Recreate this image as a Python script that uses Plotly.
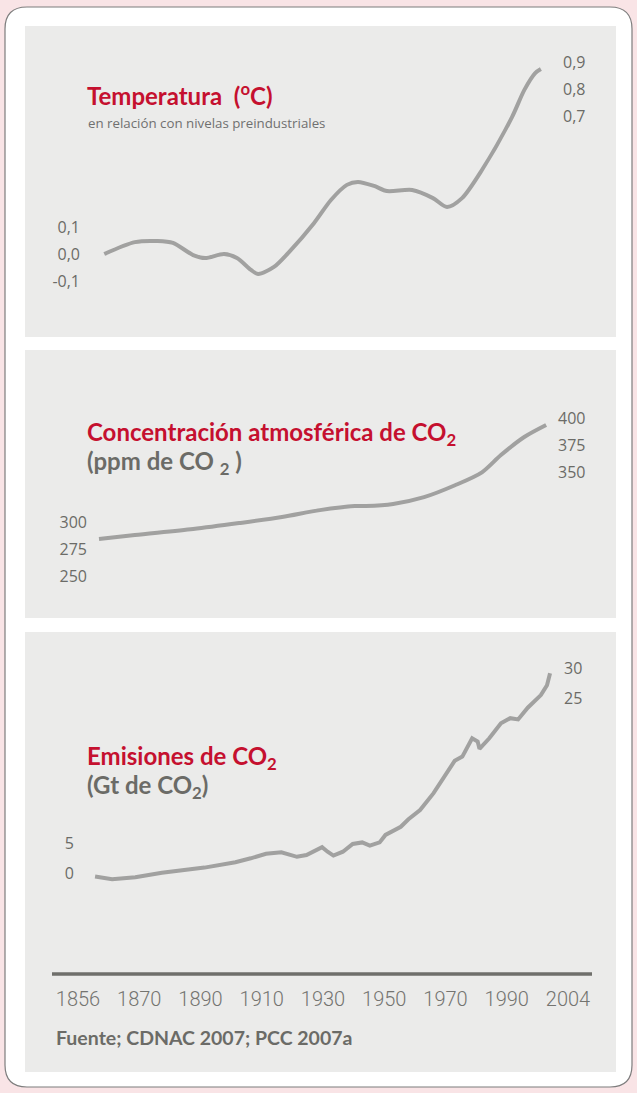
import numpy as np
import plotly.graph_objects as go

W, H = 637, 1093

# ---------------- data ----------------
LABEL_YEARS = [1856, 1870, 1890, 1910, 1930, 1950, 1970, 1990, 2004]

temp_years = [1862, 1869, 1876, 1881, 1887.6, 1891.5, 1897.7, 1901.9, 1906.5, 1908.8,
              1914, 1918.9, 1927.1, 1932.6, 1937.8, 1941.4, 1946.7, 1950.9, 1959.1,
              1965.9, 1970.5, 1975.4, 1981.9, 1991.2, 1994, 1996.5, 1997.8]
temp_values = [0.0, 0.044, 0.048, 0.041, -0.004, -0.015, 0.0, -0.015, -0.059, -0.074,
               -0.048, 0.007, 0.115, 0.2, 0.256, 0.267, 0.252, 0.233, 0.237,
               0.207, 0.174, 0.207, 0.311, 0.507, 0.607, 0.670, 0.685]

co2_years = [1860.8, 1869, 1887.6, 1902.6, 1916.6, 1929, 1940.4, 1944, 1952.9, 1963,
             1973.1, 1981.9, 1988.1, 1994, 1999]
co2_values = [284.3, 288, 293.5, 299, 304.6, 311, 314.8, 314.8, 316.7, 323,
              334, 346, 362, 378.7, 389.8]

em_years = [1859.9, 1863.8, 1869.1, 1877.4, 1891.3, 1901.4, 1906.4, 1911.4, 1916.4, 1918.9,
            1921.5, 1924.6, 1926.5, 1929.7, 1931.5, 1933.4, 1936.5, 1939.7, 1942.8, 1945.3,
            1948.5, 1950.4, 1955.4, 1957.9, 1961.7, 1966.1, 1973.0, 1975.5, 1978.7, 1980.5,
            1981.1, 1984.3, 1988.1, 1990.8, 1992.6, 1994.8, 1997.8, 1999.2, 1999.9]
em_values = [-0.6, -1.05, -0.7, 0.05, 0.9, 1.8, 2.45, 3.2, 3.45, 3.0,
             2.7, 3.0, 3.55, 4.3, 3.55, 2.9, 3.55, 4.85, 5.1, 4.55,
             5.1, 6.35, 7.7, 8.95, 10.5, 13.3, 18.7, 19.4, 22.45, 21.9,
             20.7, 22.45, 24.95, 25.8, 25.6, 27.55, 29.65, 31.3, 33.3]

temp_left_ticks = [-0.1, 0.0, 0.1]
temp_left_text = ["-0,1", "0,0", "0,1"]
temp_right_ticks = [0.7, 0.8, 0.9]
temp_right_text = ["0,7", "0,8", "0,9"]
co2_left_ticks = [250, 275, 300]
co2_right_ticks = [350, 375, 400]
em_left_ticks = [0, 5]
em_right_ticks = [25, 30]

# ---------------- style ----------------
PINK = "#f9e4e6"
PANEL = "#ebebea"
LINE = "#a1a1a0"
RED = "#c5102f"
GREY_TXT = "#6b6b67"
TICK_FONT = dict(family="Open Sans, sans-serif", size=16, color="#6b6b67")
TITLE_FAMILY = "Lato, sans-serif"


def px(x):
    return x / W


def py(y):
    return 1 - y / H


def to_pos(years):
    return np.interp(years, LABEL_YEARS, np.arange(len(LABEL_YEARS)))


fig = go.Figure()

fig.add_trace(go.Scatter(x=to_pos(temp_years), y=temp_values, xaxis="x", yaxis="y",
                         mode="lines", line=dict(color=LINE, width=4, shape="spline", smoothing=0.8),
                         hoverinfo="skip", showlegend=False))
fig.add_trace(go.Scatter(x=[None], y=[None], xaxis="x", yaxis="y2", showlegend=False, hoverinfo="skip"))
fig.add_trace(go.Scatter(x=to_pos(co2_years), y=co2_values, xaxis="x", yaxis="y3",
                         mode="lines", line=dict(color=LINE, width=4, shape="spline", smoothing=0.8),
                         hoverinfo="skip", showlegend=False))
fig.add_trace(go.Scatter(x=[None], y=[None], xaxis="x", yaxis="y4", showlegend=False, hoverinfo="skip"))
fig.add_trace(go.Scatter(x=to_pos(em_years), y=em_values, xaxis="x", yaxis="y5",
                         mode="lines", line=dict(color=LINE, width=4),
                         hoverinfo="skip", showlegend=False))
fig.add_trace(go.Scatter(x=[None], y=[None], xaxis="x", yaxis="y6", showlegend=False, hoverinfo="skip"))

# axis geometry (pixel layout)
x_lo, x_hi = 25, 613
T_top, T_bot = 26, 337
C_top, C_bot = 350, 618
E_top, E_bot = 632, 960

# temperature: 0.0 at y=254 (left), 0.9 at y=62 (right), 270 px per unit
tk = 270.0
t_left = [-(T_bot - 254) / tk, (254 - T_top) / tk]
t_right = [0.9 - (T_bot - 62) / tk, 0.9 + (62 - T_top) / tk]
# co2: 300 at y=522 (left), 400 at y=418 (right), 1.08 px per ppm
ck = 1.08
c_left = [300 - (C_bot - 522) / ck, 300 + (522 - C_top) / ck]
c_right = [400 - (C_bot - 418) / ck, 400 + (418 - C_top) / ck]
# emissions: 0 at y=873 (left), 30 at y=668 (right), 6 px per Gt
ek = 6.0
e_left = [-(E_bot - 873) / ek, (873 - E_top) / ek]
e_right = [30 - (E_bot - 668) / ek, 30 + (668 - E_top) / ek]

common_y = dict(showgrid=False, zeroline=False, showline=False, ticks="",
                tickfont=TICK_FONT, fixedrange=True, anchor="free")

fig.update_layout(
    width=W, height=H,
    margin=dict(l=0, r=0, t=0, b=0),
    paper_bgcolor=PINK, plot_bgcolor="rgba(0,0,0,0)",
    showlegend=False,
    xaxis=dict(domain=[px(x_lo), px(x_hi)], range=[-(78 - x_lo) / 61.25, 8 + (x_hi - 568) / 61.25],
               tickvals=list(range(len(LABEL_YEARS))), ticktext=[str(y) for y in LABEL_YEARS],
               showgrid=False, zeroline=False, showline=False, ticks="",
               tickfont=dict(family="Roboto, sans-serif", size=20, color="#747470", weight=300),
               anchor="free", position=py(985), fixedrange=True),
    yaxis=dict(common_y, domain=[py(T_bot), py(T_top)], range=t_left,
               tickvals=temp_left_ticks, ticktext=temp_left_text, side="left", position=px(80)),
    yaxis2=dict(common_y, overlaying="y", range=t_right,
                tickvals=temp_right_ticks, ticktext=temp_right_text, side="right", position=px(562)),
    yaxis3=dict(common_y, domain=[py(C_bot), py(C_top)], range=c_left,
                tickvals=co2_left_ticks, ticktext=[str(v) for v in co2_left_ticks],
                side="left", position=px(87)),
    yaxis4=dict(common_y, overlaying="y3", range=c_right,
                tickvals=co2_right_ticks, ticktext=[str(v) for v in co2_right_ticks],
                side="right", position=px(557)),
    yaxis5=dict(common_y, domain=[py(E_bot), py(E_top)], range=e_left,
                tickvals=em_left_ticks, ticktext=[str(v) for v in em_left_ticks],
                side="left", position=px(74)),
    yaxis6=dict(common_y, overlaying="y5", range=e_right,
                tickvals=em_right_ticks, ticktext=[str(v) for v in em_right_ticks],
                side="right", position=px(563)),
)

# ---------------- background shapes ----------------
def rounded_rect(x0, y0, x1, y1, r):
    def P(x, y):
        return f"{px(x):.5f},{py(y):.5f}"
    return (f"M {P(x0 + r, y0)} L {P(x1 - r, y0)} Q {P(x1, y0)} {P(x1, y0 + r)} "
            f"L {P(x1, y1 - r)} Q {P(x1, y1)} {P(x1 - r, y1)} "
            f"L {P(x0 + r, y1)} Q {P(x0, y1)} {P(x0, y1 - r)} "
            f"L {P(x0, y0 + r)} Q {P(x0, y0)} {P(x0 + r, y0)} Z")


shapes = [
    dict(type="path", xref="paper", yref="paper", path=rounded_rect(5, 7, 632, 1087, 22),
         fillcolor="white", line=dict(color="#7d7d7d", width=1.2), layer="below"),
]
for (t, b) in [(T_top, T_bot), (C_top, C_bot), (E_top, 1072)]:
    shapes.append(dict(type="rect", xref="paper", yref="paper",
                       x0=px(25), x1=px(616), y0=py(b), y1=py(t),
                       fillcolor=PANEL, line=dict(width=0), layer="below"))
shapes.append(dict(type="line", xref="paper", yref="paper",
                   x0=px(52), x1=px(592), y0=py(974), y1=py(974),
                   line=dict(color="#6f6f6b", width=3.5), layer="below"))
fig.update_layout(shapes=shapes)

# ---------------- texts ----------------
def label(text, x, y, size, color, family=TITLE_FAMILY):
    fig.add_annotation(text=text, xref="paper", yref="paper", x=px(x), y=py(y),
                       xanchor="left", yanchor="middle", showarrow=False,
                       font=dict(family=family, size=size, color=color))


label("<b>Temperatura  (<sup>o</sup>C)</b>", 85, 94, 24, RED)
label("en relación con nivelas preindustriales", 86, 123, 13.3, "#707070", "Open Sans, sans-serif")
label("<b>Concentración atmosférica de CO<sub>2</sub></b>", 85, 433, 24, RED)
label("<b>(ppm de CO <sub>2</sub> )</b>", 85, 462, 24, GREY_TXT)
label("<b>Emisiones de CO<sub>2</sub></b>", 85, 757, 24, RED)
label("<b>(Gt de CO<sub>2</sub>)</b>", 85, 786, 24, GREY_TXT)
label("<b>Fuente; CDNAC 2007; PCC 2007a</b>", 54, 1037, 19.5, GREY_TXT)

fig.write_html("out.html", config={"displayModeBar": False},
               post_script="document.body.style.margin='0';document.body.style.overflow='hidden';")
